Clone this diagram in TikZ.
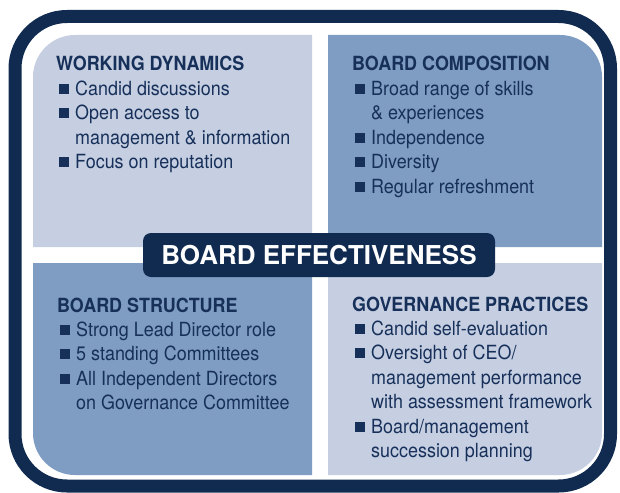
\documentclass[tikz,border=0pt]{standalone}
\usepackage{fontspec}
\setmainfont{TeX Gyre Heros}[FakeStretch=0.92]
\newfontfamily\titlefont{TeX Gyre Heros}
\usepackage{xcolor}
\usepackage{tikz}
\usetikzlibrary{positioning}

\definecolor{navy}{HTML}{102A50}
\definecolor{inkblue}{HTML}{17305A}
\definecolor{paleblue}{HTML}{C6CFE2}
\definecolor{midblue}{HTML}{7F9CC2}

\newcommand{\bul}{\makebox[19pt][l]{\hspace{2.5pt}\raisebox{1.5pt}{\rule{10pt}{10pt}}}}
\newcommand{\cont}{\hspace*{19pt}}

\tikzset{
  paneltext/.style={anchor=base west, inner sep=0pt, text=inkblue,
    font=\fontsize{19.5}{24.4}\selectfont},
  titlebox/.style={fill=navy, rounded corners=8pt, minimum width=352pt,
    minimum height=44pt, inner sep=0pt, text=white,
    font=\titlefont\bfseries\fontsize{26}{30}\selectfont}
}

\begin{document}
\begin{tikzpicture}[x=1pt,y=1pt]
  \useasboundingbox (0,0) rectangle (620,-492);

  % the four panels
  \fill[paleblue] (312,-247) -- (33,-247) -- (33,-77)
    arc[start angle=180,end angle=90,radius=42] -- (312,-35) -- cycle;
  \fill[midblue] (328,-247) -- (328,-35) -- (560,-35)
    arc[start angle=90,end angle=0,radius=42] -- (602,-247) -- cycle;
  \fill[midblue] (312,-263) -- (33,-263) -- (33,-433)
    arc[start angle=180,end angle=270,radius=42] -- (312,-475) -- cycle;
  \fill[paleblue] (328,-263) -- (602,-263) -- (602,-433)
    arc[start angle=0,end angle=-90,radius=42] -- (328,-475) -- cycle;

  % frame
  \draw[navy, line width=13pt, rounded corners=52pt]
    (15,-16.5) rectangle (610.5,-486);

  \node[paneltext] (dyn) at (56,-71) {\begin{tabular}[t]{@{}l@{}}
      \textbf{WORKING DYNAMICS}\\
      \bul Candid discussions\\
      \bul Open access to\\
      \cont management \& information\\
      \bul Focus on reputation
    \end{tabular}};
  \node[paneltext] (comp) at (352,-71) {\begin{tabular}[t]{@{}l@{}}
      \textbf{BOARD COMPOSITION}\\
      \bul Broad range of skills\\
      \cont \& experiences\\
      \bul Independence\\
      \bul Diversity\\
      \bul Regular refreshment
    \end{tabular}};
  \node[paneltext] (struct) at (57,-312) {\begin{tabular}[t]{@{}l@{}}
      \textbf{BOARD STRUCTURE}\\
      \bul Strong Lead Director role\\
      \bul 5 standing Committees\\
      \bul All Independent Directors\\
      \cont on Governance Committee
    \end{tabular}};
  \node[paneltext] (prac) at (352,-311) {\begin{tabular}[t]{@{}l@{}}
      \textbf{GOVERNANCE PRACTICES}\\
      \bul Candid self-evaluation\\
      \bul Oversight of CEO/\\
      \cont management performance\\
      \cont with assessment framework\\
      \bul Board/management\\
      \cont succession planning
    \end{tabular}};

  \node[titlebox] (title) at (319,-255) {BOARD EFFECTIVENESS};
\end{tikzpicture}
\end{document}
